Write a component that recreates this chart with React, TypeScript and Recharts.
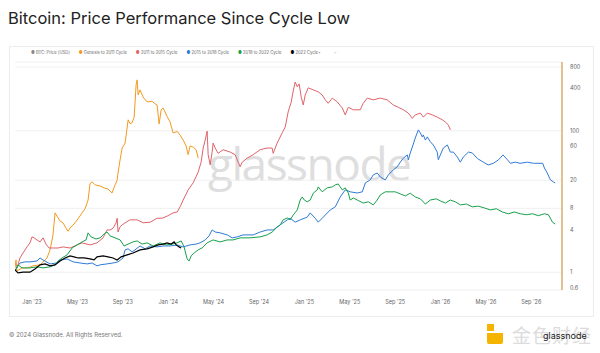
import { CartesianGrid, Line, LineChart, XAxis, YAxis } from 'recharts';

// x = months since Jan 2023 (aligned to days since each cycle low), y = multiple of cycle-low price
const genesisTo2011: [number, number][] = [
  [-1.5, 1.15], [-1.41, 1.49], [-1.32, 1.04], [-0.88, 1.15], [-0.35, 1.15], [0.09, 1.23], [0.71, 1.27],
  [1.32, 1.59], [1.59, 2.07], [1.85, 3.37], [2.03, 6.9], [2.2, 6.2], [2.47, 5.3], [2.73, 5.0], [3.0, 4.2],
  [3.17, 3.8], [3.44, 4.4], [3.7, 4.8], [4.06, 5.7], [4.41, 6.9], [4.67, 7.9], [4.94, 10.5], [5.11, 17.8],
  [5.29, 19], [5.56, 17.2], [6.0, 16.6], [6.35, 15.6], [6.7, 15], [7.05, 13.2], [7.32, 17.2], [7.5, 20],
  [7.58, 25.3], [7.76, 38.8], [7.94, 57], [8.2, 67], [8.47, 143], [8.64, 126], [8.82, 130], [9.0, 156],
  [9.17, 446], [9.26, 525], [9.35, 322], [9.52, 379], [9.79, 300], [10.14, 256], [10.58, 262], [10.85, 240],
  [11.02, 232], [11.2, 125], [11.38, 198], [11.55, 210], [11.9, 160], [12.17, 133], [12.43, 93], [12.79, 98],
  [13.05, 87], [13.32, 74], [13.58, 61], [13.76, 46], [13.93, 61], [14.2, 59], [14.46, 54], [14.64, 41],
];

const cycle2011To2015: [number, number][] = [
  [-1.5, 1.08], [-1.32, 1.15], [-1.06, 1.59], [-0.79, 1.87], [-0.44, 2.28], [-0.18, 2.6], [0, 3.16],
  [0.18, 3.06], [0.44, 2.86], [0.71, 2.68], [0.97, 3.06], [1.23, 2.5], [1.5, 2.2], [1.85, 2.2], [2.29, 2.2],
  [2.73, 2.28], [3.35, 2.2], [3.97, 2.43], [4.41, 2.6], [5.11, 2.43], [5.73, 2.6], [6.26, 3.06], [6.61, 3.96],
  [6.88, 3.96], [7.14, 4.2], [7.41, 4.97], [7.5, 5.8], [7.58, 3.7], [7.76, 4.4], [7.94, 4.67], [8.29, 5.1],
  [8.64, 5.5], [9.26, 5.5], [9.79, 5.0], [10.41, 5.1], [11.02, 5.8], [11.46, 5.8], [11.9, 6.2], [12.43, 6.9],
  [12.79, 7.1], [13.05, 8.4], [13.32, 10.5], [13.76, 14.6], [14.2, 18.4], [14.64, 26], [14.9, 36], [15.08, 57],
  [15.26, 74], [15.43, 99], [15.52, 46], [15.7, 33], [15.87, 50], [15.96, 67], [16.14, 57], [16.4, 48],
  [16.84, 54], [17.46, 50], [17.9, 46], [18.17, 36], [18.34, 31], [18.52, 36], [18.96, 41], [19.49, 46],
  [20.1, 54], [20.72, 57], [21.16, 57], [21.25, 48], [21.6, 67], [22.05, 94], [22.31, 113], [22.57, 185],
  [22.84, 255], [23.0, 355], [23.19, 490], [23.37, 420], [23.54, 460], [23.72, 300], [23.9, 232], [24.07, 320],
  [24.34, 405], [24.78, 379], [25.22, 355], [25.57, 322], [25.84, 274], [26.1, 245], [26.46, 290], [26.9, 256],
  [27.34, 210], [27.6, 168], [27.87, 215], [28.31, 198], [28.92, 198], [29.19, 245], [29.54, 290], [30.07, 274],
  [30.69, 290], [31.3, 274], [31.83, 232], [32.28, 215], [32.72, 198], [33.16, 178], [33.51, 150], [33.77, 168],
  [34.22, 178], [34.48, 156], [34.83, 178], [35.27, 168], [35.71, 156], [36.16, 143], [36.42, 133],
  [36.68, 121], [36.86, 103],
];

const cycle2015To2018: [number, number][] = [
  [-1.5, 1.04], [-1.23, 1.23], [-1.06, 1.35], [-0.62, 1.4], [-0.18, 1.4], [0.44, 1.44], [0.71, 1.59],
  [0.97, 1.49], [1.59, 1.31], [2.2, 1.35], [2.47, 1.49], [3.09, 1.54], [3.62, 1.4], [4.23, 1.35], [4.85, 1.31],
  [5.29, 1.35], [5.73, 1.23], [6.0, 1.27], [6.61, 1.31], [7.14, 1.35], [7.58, 1.4], [8.02, 1.59], [8.2, 2.07],
  [8.47, 2.14], [8.82, 1.94], [9.08, 2.07], [9.52, 2.35], [9.96, 2.14], [10.4, 2.35], [11.0, 2.28],
  [11.55, 2.35], [12.17, 2.35], [12.79, 2.43], [13.3, 2.28], [13.93, 2.43], [14.46, 2.5], [14.81, 2.6],
  [15.26, 2.86], [15.6, 3.26], [15.87, 3.96], [16.14, 3.7], [16.58, 3.6], [17.2, 3.37], [17.64, 3.06],
  [18.08, 3.16], [18.6, 3.37], [19.49, 3.37], [20.1, 3.7], [20.72, 3.96], [21.25, 3.96], [21.87, 4.67],
  [22.49, 5.5], [22.75, 5.8], [23.19, 5.1], [23.63, 5.5], [24.25, 6.0], [24.51, 6.9], [24.96, 5.8], [25.22, 5.1],
  [25.66, 6.0], [26.28, 7.6], [26.72, 8.4], [27.16, 11.6], [27.6, 14.6], [28.04, 13.7], [28.66, 13.2],
  [29.1, 13.7], [29.37, 18.3], [29.8, 20.2], [30.07, 23.8], [30.42, 25.3], [30.69, 22.2], [31.13, 20.2],
  [31.4, 23.8], [31.83, 28], [32.19, 31], [32.45, 36], [32.72, 41], [33.07, 45.6], [33.16, 38.8], [33.33, 48.6],
  [33.51, 59], [33.77, 79], [34.04, 103], [34.22, 93], [34.39, 82], [34.48, 87.5], [34.66, 74], [34.83, 82],
  [35.1, 70], [35.36, 63], [35.71, 50], [35.8, 39], [35.98, 45.6], [36.24, 57], [36.6, 63], [36.86, 50],
  [37.13, 50], [37.48, 42.5], [37.74, 36], [38.0, 42.5], [38.45, 50], [38.8, 48.6], [39.24, 40.6], [39.77, 36],
  [40.2, 32.9], [40.65, 34.7], [41.1, 38.8], [41.5, 45.6], [41.9, 38.8], [42.15, 34.7], [42.6, 36], [43.0, 34.7],
  [43.65, 36], [44.2, 34.7], [45.0, 34.7], [45.15, 29.8], [45.4, 25.3], [45.68, 20.2], [45.94, 18.9],
  [46.1, 18.3],
];

const cycle2018To2022: [number, number][] = [
  [-1.5, 1.04], [-1.23, 1.27], [-0.88, 1.15], [-0.18, 1.15], [0.44, 1.19], [0.97, 1.15], [1.59, 1.19],
  [2.03, 1.27], [2.29, 1.44], [2.65, 1.59], [3.09, 1.76], [3.53, 2.2], [3.97, 2.43], [4.41, 2.68], [4.76, 2.86],
  [4.94, 3.6], [5.2, 3.16], [5.64, 2.95], [6.0, 3.06], [6.35, 3.47], [6.61, 3.7], [6.88, 3.26], [7.32, 3.06],
  [7.76, 2.86], [8.11, 2.35], [8.47, 2.5], [8.9, 2.68], [9.26, 2.77], [9.7, 2.5], [10.14, 2.6], [10.67, 2.35],
  [11.29, 2.6], [11.82, 2.43], [12.35, 2.5], [12.79, 2.6], [13.14, 2.77], [13.4, 2.28], [13.67, 1.54],
  [13.84, 1.44], [14.02, 1.7], [14.29, 1.87], [14.64, 2.07], [14.99, 2.2], [15.43, 2.6], [15.96, 2.86],
  [16.58, 2.68], [17.2, 2.86], [17.72, 2.86], [18.34, 3.06], [19.22, 3.06], [20.1, 3.16], [20.72, 3.37],
  [21.16, 3.7], [21.6, 4.35], [21.87, 4.67], [22.13, 5.5], [22.49, 5.85], [22.75, 5.5], [23.02, 6.46],
  [23.37, 7.6], [23.63, 10.5], [23.81, 11.6], [23.99, 10.5], [24.25, 9.9], [24.51, 10.5], [24.78, 13.1],
  [25.13, 14.6], [25.22, 16.1], [25.57, 13.7], [26.01, 15.6], [26.46, 16.1], [26.72, 17.2], [26.98, 17.7],
  [27.34, 14.6], [27.6, 15.6], [27.87, 13.2], [28.04, 10.5], [28.31, 11.2], [28.66, 10.5], [29.19, 9.5],
  [29.63, 9.9], [30.07, 8.95], [30.42, 10.5], [30.69, 12.4], [31.13, 13.7], [31.57, 13.7], [32.01, 13.7],
  [32.45, 12.8], [32.89, 12], [33.33, 13.1], [33.77, 11.6], [34.22, 10.9], [34.66, 9.2], [35.1, 10.5],
  [35.63, 10.9], [35.98, 10.2], [36.42, 9.5], [36.86, 10.5], [37.3, 9.9], [37.74, 8.95], [38.27, 9.2],
  [38.8, 8.4], [39.33, 8.6], [39.86, 8.1], [40.39, 7.6], [40.92, 7.9], [41.45, 7.1], [41.98, 6.7], [42.5, 7.1],
  [43.03, 6.7], [43.56, 6.5], [44.1, 6.7], [44.62, 6.3], [45.15, 6.7], [45.5, 6.5], [45.86, 5.1], [46.1, 4.8],
];

const cycle2022Plus: [number, number][] = [
  [-1.5, 1.08], [-1.23, 0.98], [-0.79, 1.0], [-0.18, 1.0], [0.26, 1.11], [0.71, 1.27], [1.15, 1.31],
  [1.59, 1.23], [2.03, 1.27], [2.47, 1.44], [2.91, 1.59], [3.35, 1.7], [3.7, 1.65], [4.06, 1.59], [4.59, 1.59],
  [5.11, 1.54], [5.47, 1.49], [5.73, 1.65], [6.26, 1.7], [6.7, 1.65], [7.14, 1.59], [7.5, 1.49], [7.85, 1.65],
  [8.38, 1.76], [8.9, 1.87], [9.52, 2.07], [10.14, 2.14], [10.67, 2.28], [11.11, 2.43], [11.55, 2.5],
  [11.9, 2.6], [12.26, 2.5], [12.52, 2.68], [12.7, 2.43], [12.96, 2.28], [13.14, 2.2],
];

const monthTicks = [0, 4, 8, 12, 16, 20, 24, 28, 32, 36, 40, 44];
const monthLabels = ["Jan '23", "May '23", "Sep '23", "Jan '24", "May '24", "Sep '24", "Jan '25", "May '25", "Sep '25", "Jan '26", "May '26", "Sep '26"];
const valueTicks = [0.6, 1, 4, 8, 20, 60, 100, 400, 800];

const series = [
  { name: 'Genesis to 2011 Cycle', color: '#f39a1e', points: genesisTo2011 },
  { name: '2011 to 2015 Cycle', color: '#e0636a', points: cycle2011To2015 },
  { name: '2015 to 2018 Cycle', color: '#2e7bd6', points: cycle2015To2018 },
  { name: '2018 to 2022 Cycle', color: '#17a04a', points: cycle2018To2022 },
  { name: '2022 Cycle+', color: '#000000', points: cycle2022Plus },
];

const font = 'Inter, Roboto, "Noto Sans", sans-serif';

export default function App() {
  return (
    <div style={{ position: 'absolute', left: 0, top: 0, width: 600, height: 353, background: '#fff', fontFamily: font, overflow: 'hidden' }}>
      <div style={{ position: 'absolute', left: 8, top: 8, fontSize: 16.5, color: '#222', whiteSpace: 'nowrap' }}>
        Bitcoin: Price Performance Since Cycle Low
      </div>
      <div style={{ position: 'absolute', left: 9, top: 46, width: 583, height: 269, border: '1px solid #ececec' }} />
      <div style={{ position: 'absolute', left: 31, top: 50, display: 'flex', gap: 9, fontSize: 4.2, color: '#666', whiteSpace: 'nowrap' }}>
        <span><span style={{ color: '#888' }}>●</span> BTC: Price [USD]</span>
        {series.map((s) => (
          <span key={s.name}><span style={{ color: s.color }}>●</span> {s.name}</span>
        ))}
        <span style={{ color: '#bbb', marginLeft: 4 }}>+ ·</span>
      </div>
      <div style={{ position: 'absolute', left: 208, top: 132, fontSize: 46, letterSpacing: -1.5, color: '#d4d4d4', fontFamily: '"Open Sans", sans-serif', fontWeight: 500, opacity: 0.75 }}>
        glassnode
      </div>
      <div style={{ position: 'absolute', left: 0, top: 0 }}>
        <LineChart width={600} height={353} margin={{ top: 62, right: 0, bottom: 43, left: 15 }}>
          <CartesianGrid vertical={false} stroke="#f0f0f0" />
          <XAxis
            type="number"
            dataKey="m"
            domain={[-1.5, 46.7]}
            ticks={monthTicks}
            tickFormatter={(v: number) => monthLabels[monthTicks.indexOf(v)] ?? ''}
            allowDataOverflow
            axisLine={false}
            tickLine={false}
            height={20}
            tickMargin={4}
            tick={{ fontSize: 5.5, fill: '#666' }}
          />
          <YAxis
            orientation="right"
            scale="log"
            domain={[0.56, 940]}
            ticks={valueTicks}
            allowDataOverflow
            width={38}
            axisLine={{ stroke: '#d9ad6e', strokeWidth: 1.5 }}
            tickLine={false}
            tickMargin={2}
            tick={{ fontSize: 5.5, fill: '#666', textAnchor: 'start' }}
          />
          {series.map((s) => (
            <Line
              key={s.name}
              data={s.points.map(([m, v]) => ({ m, v }))}
              dataKey="v"
              name={s.name}
              stroke={s.color}
              strokeWidth={s.name === '2022 Cycle+' ? 1.2 : 1}
              dot={false}
              isAnimationActive={false}
            />
          ))}
        </LineChart>
      </div>
      <div style={{ position: 'absolute', left: 9, top: 331, fontSize: 6, color: '#777' }}>
        © 2024 Glassnode. All Rights Reserved.
      </div>
      <div style={{ position: 'absolute', left: 487, top: 324, width: 7, height: 7, background: '#f4b400' }} />
      <div style={{ position: 'absolute', left: 487, top: 333, width: 16, height: 11, background: '#f4b400', borderRadius: '0 0 2px 2px' }} />
      <div style={{ position: 'absolute', left: 512, top: 321, fontSize: 19, color: '#dcdcdc', fontFamily: '"Noto Sans CJK SC", sans-serif', letterSpacing: 1 }}>
        金色财经
      </div>
      <div style={{ position: 'absolute', left: 543, top: 330, fontSize: 9, color: '#222', fontFamily: font }}>
        glassnode
      </div>
    </div>
  );
}
